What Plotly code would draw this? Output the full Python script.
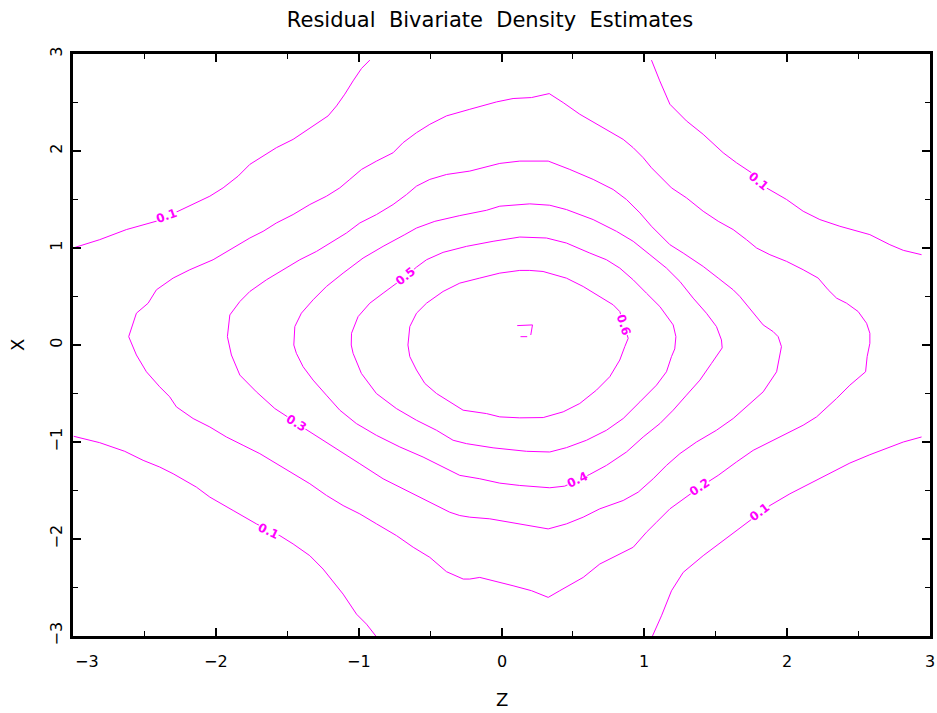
import plotly.graph_objects as go

# ---- contour lines (z on horizontal axis, x on vertical) ----
c01a_z = [-3.0, -2.813, -2.626, -2.509, -2.393, -2.288, -2.159, -2.042, -1.949, -1.844, -1.762, -1.669, -1.576, -1.459, -1.389, -1.319, -1.214, -1.155, -1.097, -1.039, -0.98, -0.922]
c01a_x = [1.00, 1.086, 1.19, 1.241, 1.286, 1.362, 1.448, 1.534, 1.62, 1.741, 1.862, 1.948, 2.034, 2.12, 2.189, 2.265, 2.362, 2.465, 2.586, 2.723, 2.851, 2.937]

c01b_z = [1.05, 1.108, 1.179, 1.295, 1.412, 1.552, 1.645, 1.75, 1.855, 1.996, 2.112, 2.229, 2.369, 2.579, 2.719, 2.813, 2.941]
c01b_x = [2.937, 2.723, 2.482, 2.31, 2.172, 1.982, 1.879, 1.776, 1.62, 1.50, 1.379, 1.293, 1.224, 1.138, 1.034, 0.976, 0.931]

c01c_z = [-2.995, -2.813, -2.638, -2.509, -2.393, -2.299, -2.136, -2.042, -1.879, -1.716, -1.552, -1.459, -1.342, -1.249, -1.109, -1.015, -0.945, -0.88]
c01c_x = [-0.941, -1.007, -1.096, -1.189, -1.258, -1.327, -1.465, -1.568, -1.706, -1.844, -1.965, -2.051, -2.172, -2.31, -2.568, -2.775, -2.878, -3.0]

c01d_z = [1.057, 1.12, 1.19, 1.272, 1.412, 1.552, 1.645, 1.739, 1.879, 2.019, 2.112, 2.252, 2.346, 2.439, 2.579, 2.719, 2.813, 2.941]
c01d_x = [-3.0, -2.792, -2.534, -2.344, -2.172, -2.017, -1.913, -1.81, -1.655, -1.534, -1.465, -1.362, -1.293, -1.217, -1.131, -1.051, -1.0, -0.948]

c02_z = [-2.61, -2.556, -2.474, -2.416, -2.299, -2.182, -2.019, -1.879, -1.762, -1.669, -1.576, -1.459, -1.342, -1.225, -1.132, -1.062, -0.98, -0.875, -0.759, -0.689, -0.595, -0.502, -0.385, -0.222, -0.035, 0.081, 0.21, 0.334, 0.432, 0.548, 0.642, 0.735, 0.852, 0.922, 0.992, 1.05, 1.12, 1.19, 1.295, 1.412, 1.517, 1.622, 1.715, 1.786, 1.879, 1.996, 2.112, 2.217, 2.287, 2.346, 2.416, 2.497, 2.556, 2.579, 2.579, 2.56, 2.549, 2.462, 2.439, 2.346, 2.206, 2.112, 1.996, 1.879, 1.762, 1.645, 1.517, 1.389, 1.272, 1.179, 1.085, 1.015, 0.922, 0.805, 0.688, 0.572, 0.455, 0.408, 0.327, 0.21, 0.081, -0.035, -0.152, -0.222, -0.268, -0.385, -0.502, -0.618, -0.735, -0.875, -0.992, -1.109, -1.225, -1.342, -1.459, -1.576, -1.692, -1.809, -1.926, -2.042, -2.159, -2.276, -2.323, -2.393, -2.486, -2.556]
c02_x = [0.086, 0.328, 0.431, 0.569, 0.69, 0.776, 0.879, 1.0, 1.103, 1.172, 1.258, 1.345, 1.448, 1.534, 1.62, 1.707, 1.81, 1.896, 1.982, 2.086, 2.189, 2.275, 2.362, 2.43, 2.506, 2.541, 2.551, 2.592, 2.499, 2.379, 2.30, 2.224, 2.12, 2.034, 1.931, 1.827, 1.724, 1.62, 1.517, 1.379, 1.276, 1.19, 1.086, 1.0, 0.931, 0.862, 0.776, 0.69, 0.569, 0.483, 0.431, 0.345, 0.224, 0.121, 0.0175, -0.12, -0.276, -0.379, -0.414, -0.551, -0.741, -0.827, -0.913, -1.0, -1.086, -1.206, -1.344, -1.465, -1.586, -1.689, -1.827, -1.93, -2.085, -2.172, -2.258, -2.396, -2.499, -2.533, -2.602, -2.533, -2.482, -2.44, -2.396, -2.413, -2.413, -2.337, -2.189, -2.085, -1.965, -1.844, -1.741, -1.655, -1.551, -1.43, -1.327, -1.224, -1.12, -1.034, -0.948, -0.845, -0.758, -0.638, -0.534, -0.431, -0.276, -0.103]

c03_z = [-1.919, -1.902, -1.832, -1.762, -1.646, -1.529, -1.412, -1.295, -1.179, -1.085, -0.992, -0.875, -0.759, -0.665, -0.595, -0.502, -0.385, -0.222, -0.012, 0.128, 0.327, 0.478, 0.642, 0.782, 0.875, 0.969, 1.05, 1.179, 1.272, 1.412, 1.517, 1.622, 1.669, 1.739, 1.786, 1.832, 1.902, 1.937, 1.96, 1.949, 1.926, 1.832, 1.739, 1.622, 1.505, 1.365, 1.249, 1.155, 1.062, 0.957, 0.852, 0.688, 0.572, 0.455, 0.327, 0.198, 0.058, -0.082, -0.222, -0.292, -0.362, -0.502, -0.642, -0.829, -0.992, -1.085, -1.272, -1.377, -1.436, -1.494, -1.587, -1.716, -1.832, -1.891]
c03_x = [0.086, 0.31, 0.448, 0.552, 0.672, 0.776, 0.879, 0.965, 1.069, 1.155, 1.258, 1.345, 1.448, 1.551, 1.638, 1.707, 1.758, 1.793, 1.872, 1.896, 1.896, 1.81, 1.707, 1.603, 1.50, 1.362, 1.224, 1.034, 0.948, 0.81, 0.69, 0.569, 0.5, 0.379, 0.293, 0.207, 0.138, 0.086, -0.017, -0.103, -0.276, -0.483, -0.603, -0.758, -0.879, -1.0, -1.12, -1.241, -1.379, -1.517, -1.603, -1.689, -1.775, -1.844, -1.896, -1.861, -1.827, -1.792, -1.775, -1.758, -1.724, -1.62, -1.517, -1.379, -1.224, -1.137, -0.965, -0.862, -0.80, -0.741, -0.655, -0.483, -0.31, -0.103]

c04_z = [-1.454, -1.447, -1.401, -1.319, -1.226, -1.109, -0.969, -0.829, -0.677, -0.595, -0.467, -0.292, -0.105, -0.012, 0.198, 0.338, 0.455, 0.642, 0.805, 0.922, 1.039, 1.155, 1.249, 1.342, 1.435, 1.505, 1.54, 1.545, 1.47, 1.389, 1.295, 1.202, 1.109, 0.992, 0.875, 0.735, 0.618, 0.53, 0.443, 0.338, 0.128, -0.012, -0.152, -0.292, -0.409, -0.549, -0.712, -0.876, -1.016, -1.132, -1.226, -1.319, -1.389, -1.436]
c04_x = [0.0, 0.19, 0.328, 0.466, 0.603, 0.741, 0.896, 1.017, 1.138, 1.206, 1.275, 1.334, 1.389, 1.431, 1.455, 1.441, 1.396, 1.293, 1.172, 1.069, 0.931, 0.793, 0.655, 0.483, 0.327, 0.19, 0.052, -0.03, -0.19, -0.362, -0.517, -0.672, -0.81, -0.948, -1.103, -1.241, -1.334, -1.396, -1.455, -1.472, -1.448, -1.424, -1.379, -1.344, -1.258, -1.155, -1.051, -0.931, -0.81, -0.672, -0.517, -0.362, -0.224, -0.086]

c05_z = [-1.052, -1.05, -1.004, -0.922, -0.829, -0.747, -0.67, -0.595, -0.525, -0.409, -0.245, -0.059, 0.128, 0.315, 0.455, 0.618, 0.735, 0.828, 0.922, 1.015, 1.109, 1.202, 1.221, 1.213, 1.19, 1.155, 1.085, 0.969, 0.852, 0.735, 0.595, 0.455, 0.338, 0.175, -0.059, -0.245, -0.339, -0.455, -0.595, -0.736, -0.876, -0.981, -1.039]
c05_x = [0.0, 0.121, 0.293, 0.431, 0.534, 0.62, 0.707, 0.803, 0.879, 0.955, 1.017, 1.069, 1.113, 1.103, 1.051, 0.948, 0.879, 0.793, 0.672, 0.534, 0.396, 0.207, 0.086, -0.04, -0.12, -0.276, -0.414, -0.586, -0.758, -0.879, -0.982, -1.058, -1.103, -1.096, -1.06, -1.017, -0.982, -0.879, -0.776, -0.655, -0.5, -0.293, -0.086]

c06_z = [-0.655, -0.642, -0.595, -0.525, -0.409, -0.292, -0.152, -0.012, 0.128, 0.198, 0.291, 0.455, 0.572, 0.688, 0.782, 0.828, 0.856, 0.887, 0.863, 0.828, 0.758, 0.665, 0.548, 0.432, 0.292, 0.128, -0.012, -0.105, -0.269, -0.385, -0.455, -0.537, -0.595, -0.642]
c06_x = [0.0, 0.19, 0.328, 0.431, 0.552, 0.638, 0.69, 0.741, 0.769, 0.769, 0.758, 0.689, 0.603, 0.5, 0.414, 0.345, 0.207, 0.069, -0.017, -0.155, -0.327, -0.465, -0.603, -0.689, -0.748, -0.751, -0.741, -0.707, -0.672, -0.569, -0.5, -0.396, -0.258, -0.12]

c07a_z = [0.11, 0.217, 0.205]
c07a_x = [0.2, 0.207, 0.103]
c07b_z = [0.133, 0.18]
c07b_x = [0.086, 0.086]

# contour labels
label_text = ["0.1", "0.1", "0.1", "0.1", "0.2", "0.3", "0.4", "0.5", "0.6"]
label_z = [-2.346, 1.797, -1.634, 1.809, 1.389, -1.436, 0.53, -0.67, 0.856]
label_x = [1.327, 1.69, -1.913, -1.723, -1.465, -0.80, -1.396, 0.707, 0.207]
label_angle = [-20, 40, 25, -37, -34, 30, -25, -39, 72]

# axis ticks
tick_vals = [-3, -2, -1, 0, 1, 2, 3]
tick_text = ["\u22123", "\u22122", "\u22121", "0", "1", "2", "3"]

title_words = ["Residual", "Bivariate", "Density", "Estimates"]

MAGENTA = "#ff00ff"

open_pieces = [(c01a_z, c01a_x), (c01b_z, c01b_x), (c01c_z, c01c_x), (c01d_z, c01d_x),
               (c07a_z, c07a_x), (c07b_z, c07b_x)]
rings = [(c02_z, c02_x), (c03_z, c03_x), (c04_z, c04_x), (c05_z, c05_x), (c06_z, c06_x)]

fig = go.Figure()
for zs, xs in open_pieces:
    fig.add_trace(go.Scatter(x=zs, y=xs, mode="lines", line=dict(color=MAGENTA, width=1),
                             hoverinfo="skip", showlegend=False))
for zs, xs in rings:
    fig.add_trace(go.Scatter(x=zs + [zs[0]], y=xs + [xs[0]], mode="lines",
                             line=dict(color=MAGENTA, width=1), hoverinfo="skip", showlegend=False))

annotations = []
for t, zz, xx, ang in zip(label_text, label_z, label_x, label_angle):
    annotations.append(dict(x=zz, y=xx, xref="x", yref="y", text="<b>" + t + "</b>", showarrow=False,
                            textangle=ang, bgcolor="white", borderpad=0,
                            font=dict(family="DejaVu Sans", size=12, color=MAGENTA)))

tick_font = dict(family="DejaVu Sans", size=16, color="black")
# x-axis tick labels (the -3 label sits to the right of its tick)
for v, t in zip(tick_vals, tick_text):
    annotations.append(dict(x=v, y=0, xref="x", yref="paper", text=t, showarrow=False,
                            xanchor="left" if v == tick_vals[0] else "center",
                            yanchor="top", yshift=-14, font=tick_font))
# axis titles
annotations.append(dict(x=0, y=0, xref="x", yref="paper", text="Z", showarrow=False,
                        xanchor="center", yanchor="middle", yshift=-63,
                        font=dict(family="DejaVu Sans", size=18, color="black")))
annotations.append(dict(x=0, y=0, xref="paper", yref="y", text="X", showarrow=False,
                        xanchor="center", yanchor="middle", xshift=-56, textangle=-90,
                        font=dict(family="DejaVu Sans", size=18, color="black")))

axis_common = dict(
    showline=True, linecolor="black", linewidth=2.5, mirror="ticks",
    ticks="inside", ticklen=8, tickwidth=1.5, tickcolor="black",
    showgrid=False, zeroline=False, range=[-3, 3], automargin=False,
    tickfont=tick_font, tickvals=tick_vals,
    minor=dict(ticks="inside", ticklen=5, tickwidth=1.2, tickcolor="black", dtick=0.5, showgrid=False),
)

fig.update_layout(
    width=937, height=713,
    margin=dict(l=73, r=7, t=54, b=77, autoexpand=False),
    paper_bgcolor="white", plot_bgcolor="white",
    title=dict(text="\u00a0\u00a0".join(title_words), x=(490 - 73) / 857, xref="paper",
               xanchor="center", y=1 - 20 / 713, yref="container", yanchor="middle",
               font=dict(family="DejaVu Sans", size=21, color="black")),
    xaxis=dict(**axis_common, showticklabels=False),
    yaxis=dict(**axis_common, ticktext=tick_text, tickangle=-90, ticklabelstandoff=2),
    annotations=annotations,
    showlegend=False,
)

fig.write_html("out.html", config={"displayModeBar": False},
               post_script="document.body.style.margin='0';document.body.style.overflow='hidden';")
